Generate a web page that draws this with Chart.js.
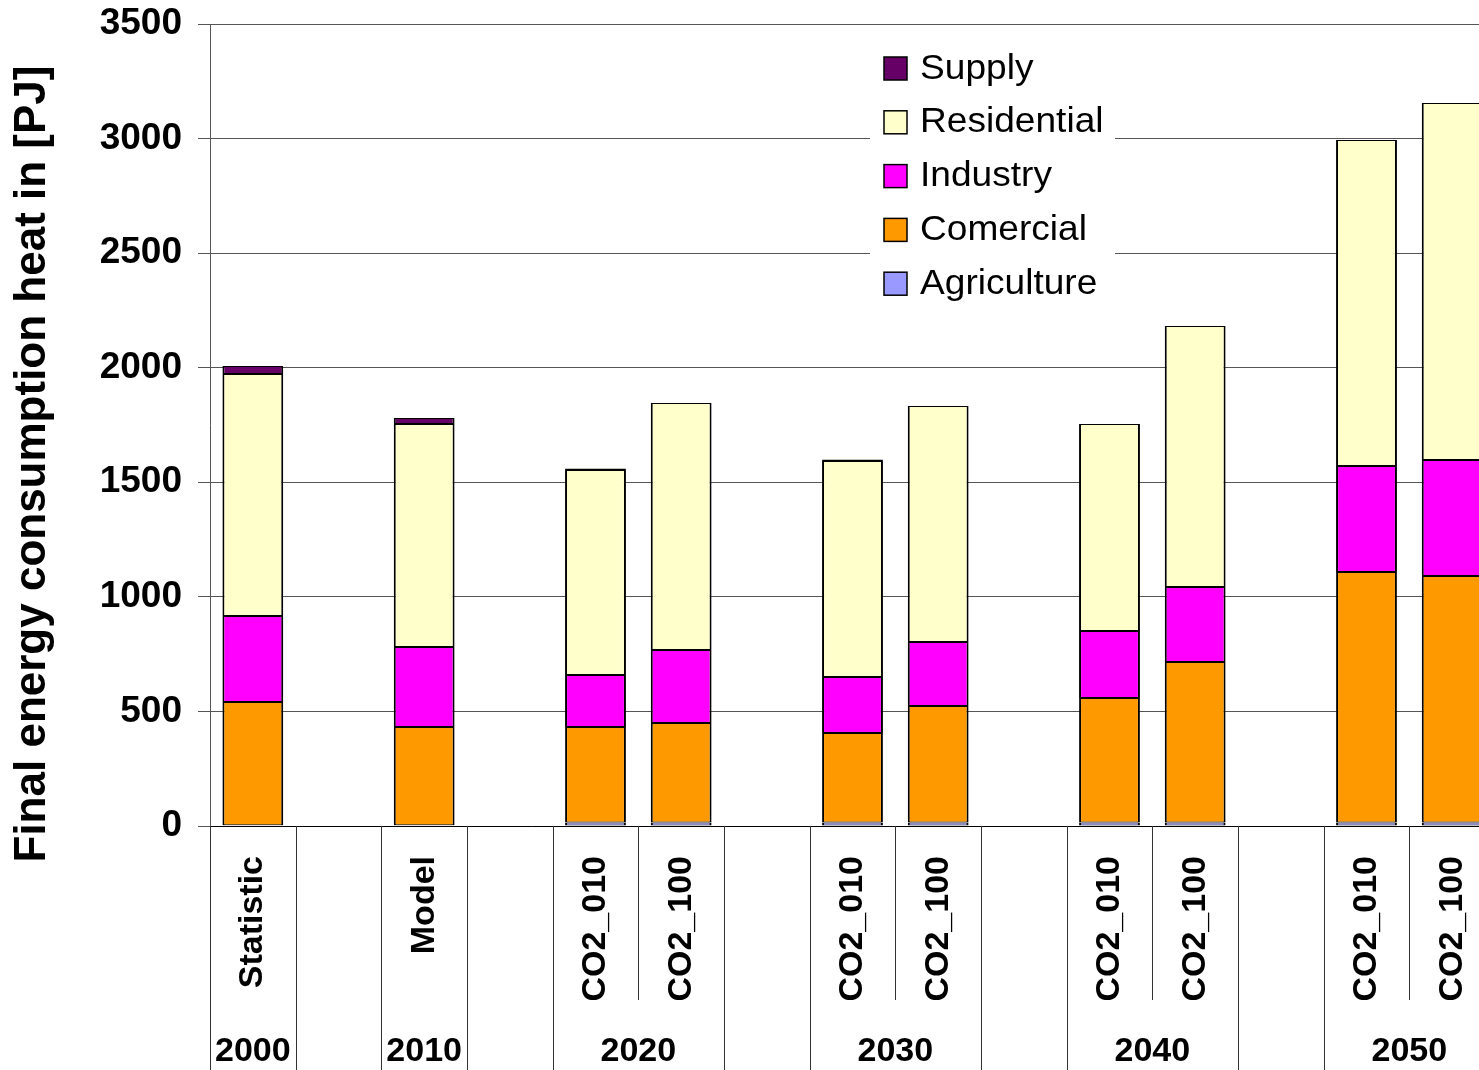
<!DOCTYPE html>
<html>
<head>
<meta charset="utf-8">
<title>Final energy consumption heat</title>
<script src="https://cdn.jsdelivr.net/npm/chart.js@4.4.1/dist/chart.umd.min.js"></script>
<style>
  html, body { margin: 0; padding: 0; background: #fff; overflow: hidden; }
  #heatChart { display: block; }
</style>
</head>
<body>
<canvas id="heatChart" width="1495" height="1070"></canvas>
<script>
// slots, empty strings are the gaps between the years
const scenarios = ['Statistic', '', 'Model', '', 'CO2_010', 'CO2_100', '', 'CO2_010', 'CO2_100', '', 'CO2_010', 'CO2_100', '', 'CO2_010', 'CO2_100'];
const years = ['2000', '2010', '2020', '2030', '2040', '2050'];
const yearFirstSlot = [0, 2, 4, 7, 10, 13];
const yearLastSlot = [0, 2, 5, 8, 11, 14];

// PJ per sector, bottom to top of each stack
const agriculture = [3, null, 3, null, 15, 15, null, 15, 15, null, 15, 15, null, 15, 15];
const comercial = [538, null, 429, null, 417, 435, null, 391, 509, null, 544, 701, null, 1093, 1076];
const industry = [376, null, 349, null, 227, 318, null, 244, 279, null, 292, 327, null, 463, 506];
const residential = [1056, null, 973, null, 895, 1078, null, 943, 1030, null, 903, 1139, null, 1423, 1558];
const supply = [35, null, 27, null, 6, 0, null, 6, 0, null, 0, 0, null, 0, 0];

const yTicks = [0, 500, 1000, 1500, 2000, 2500, 3000, 3500];

const FONT = 'Arial, "Liberation Sans", sans-serif';

function series(label, data, color) {
  return {
    label, data,
    backgroundColor: color,
    borderColor: '#000',
    borderWidth: { top: 1, bottom: 1, left: 2, right: 2 },
    borderSkipped: false,
    categoryPercentage: 1,
    barPercentage: 0.71
  };
}

// year row and the separator lines under the category labels
const groupAxis = {
  id: 'groupAxis',
  afterDraw(chart) {
    const ctx = chart.ctx;
    const xs = chart.scales.x;
    const half = (xs.getPixelForValue(1) - xs.getPixelForValue(0)) / 2;
    const top = chart.chartArea.bottom;
    const edge = i => xs.getPixelForValue(i) - half;
    ctx.save();
    ctx.strokeStyle = '#333';
    ctx.lineWidth = 1;
    for (let i = 0; i <= scenarios.length; i++) {
      let inside = false;
      for (let g = 0; g < years.length; g++) {
        if (i > yearFirstSlot[g] && i <= yearLastSlot[g]) inside = true;
      }
      const x = Math.round(edge(i)) + 0.5;
      ctx.beginPath();
      ctx.moveTo(x, top);
      ctx.lineTo(x, inside ? 1000 : chart.height);
      ctx.stroke();
    }
    ctx.fillStyle = '#000';
    ctx.font = 'bold 34px ' + FONT;
    ctx.textAlign = 'center';
    ctx.textBaseline = 'middle';
    years.forEach((y, g) => {
      const cx = (xs.getPixelForValue(yearFirstSlot[g]) + xs.getPixelForValue(yearLastSlot[g])) / 2;
      ctx.fillText(y, cx, 1052);
    });

    // vertical axis title
    ctx.translate(33, 464);
    ctx.rotate(-Math.PI / 2);
    ctx.font = 'bold 44px ' + FONT;
    ctx.fillText('Final energy consumption heat in [PJ]', 0, 0);
    ctx.restore();
  }
};

// legend box inside the plot, top entry is the top of the stack
const boxLegend = {
  id: 'boxLegend',
  afterDraw(chart) {
    const ctx = chart.ctx;
    const sets = chart.data.datasets.slice().reverse();
    ctx.save();
    ctx.fillStyle = '#fff';
    ctx.fillRect(870, 38, 245, 268);
    sets.forEach((ds, i) => {
      const cy = 69 + i * 53.8;
      ctx.fillStyle = ds.backgroundColor;
      ctx.fillRect(884, cy - 12, 23, 23);
      ctx.strokeStyle = '#000';
      ctx.lineWidth = 1.5;
      ctx.strokeRect(884, cy - 12, 23, 23);
      ctx.save();
      ctx.translate(920, cy);
      ctx.scale(1.06, 1);
      ctx.fillStyle = '#000';
      ctx.font = '35px ' + FONT;
      ctx.textAlign = 'left';
      ctx.textBaseline = 'middle';
      ctx.fillText(ds.label, 0, 0);
      ctx.restore();
    });
    ctx.restore();
  }
};

new Chart(document.getElementById('heatChart'), {
  type: 'bar',
  data: {
    labels: scenarios,
    datasets: [
      series('Agriculture', agriculture, '#9999FF'),
      series('Comercial', comercial, '#FF9900'),
      series('Industry', industry, '#FF00FF'),
      series('Residential', residential, '#FFFFCC'),
      series('Supply', supply, '#660066')
    ]
  },
  options: {
    responsive: false,
    animation: false,
    layout: { padding: { top: 24, left: 0, right: 0, bottom: 0 } },
    plugins: {
      legend: { display: false },
      tooltip: { enabled: false }
    },
    scales: {
      x: {
        stacked: true,
        grid: { display: false, drawTicks: false },
        border: { display: true, color: '#000', width: 1 },
        ticks: {
          autoSkip: false,
          minRotation: 90,
          maxRotation: 90,
          padding: 30,
          color: '#000',
          font: { family: FONT, size: 34, weight: 'bold' }
        },
        afterFit(scale) {
          scale.height = 244;
          scale.paddingLeft = 0;
          scale.paddingRight = 0;
        }
      },
      y: {
        stacked: true,
        min: 0,
        max: 3500,
        afterBuildTicks(scale) { scale.ticks = yTicks.map(v => ({ value: v })); },
        grid: { color: '#555', lineWidth: 1, tickLength: 12 },
        border: { display: true, color: '#555', width: 1 },
        ticks: {
          padding: 16,
          color: '#000',
          font: { family: FONT, size: 37, weight: 'bold' },
          callback: v => String(v)
        },
        afterFit(scale) {
          scale.width = 210;
          scale.paddingTop = 0;
          scale.paddingBottom = 0;
        }
      }
    }
  },
  plugins: [groupAxis, boxLegend]
});
</script>
</body>
</html>
